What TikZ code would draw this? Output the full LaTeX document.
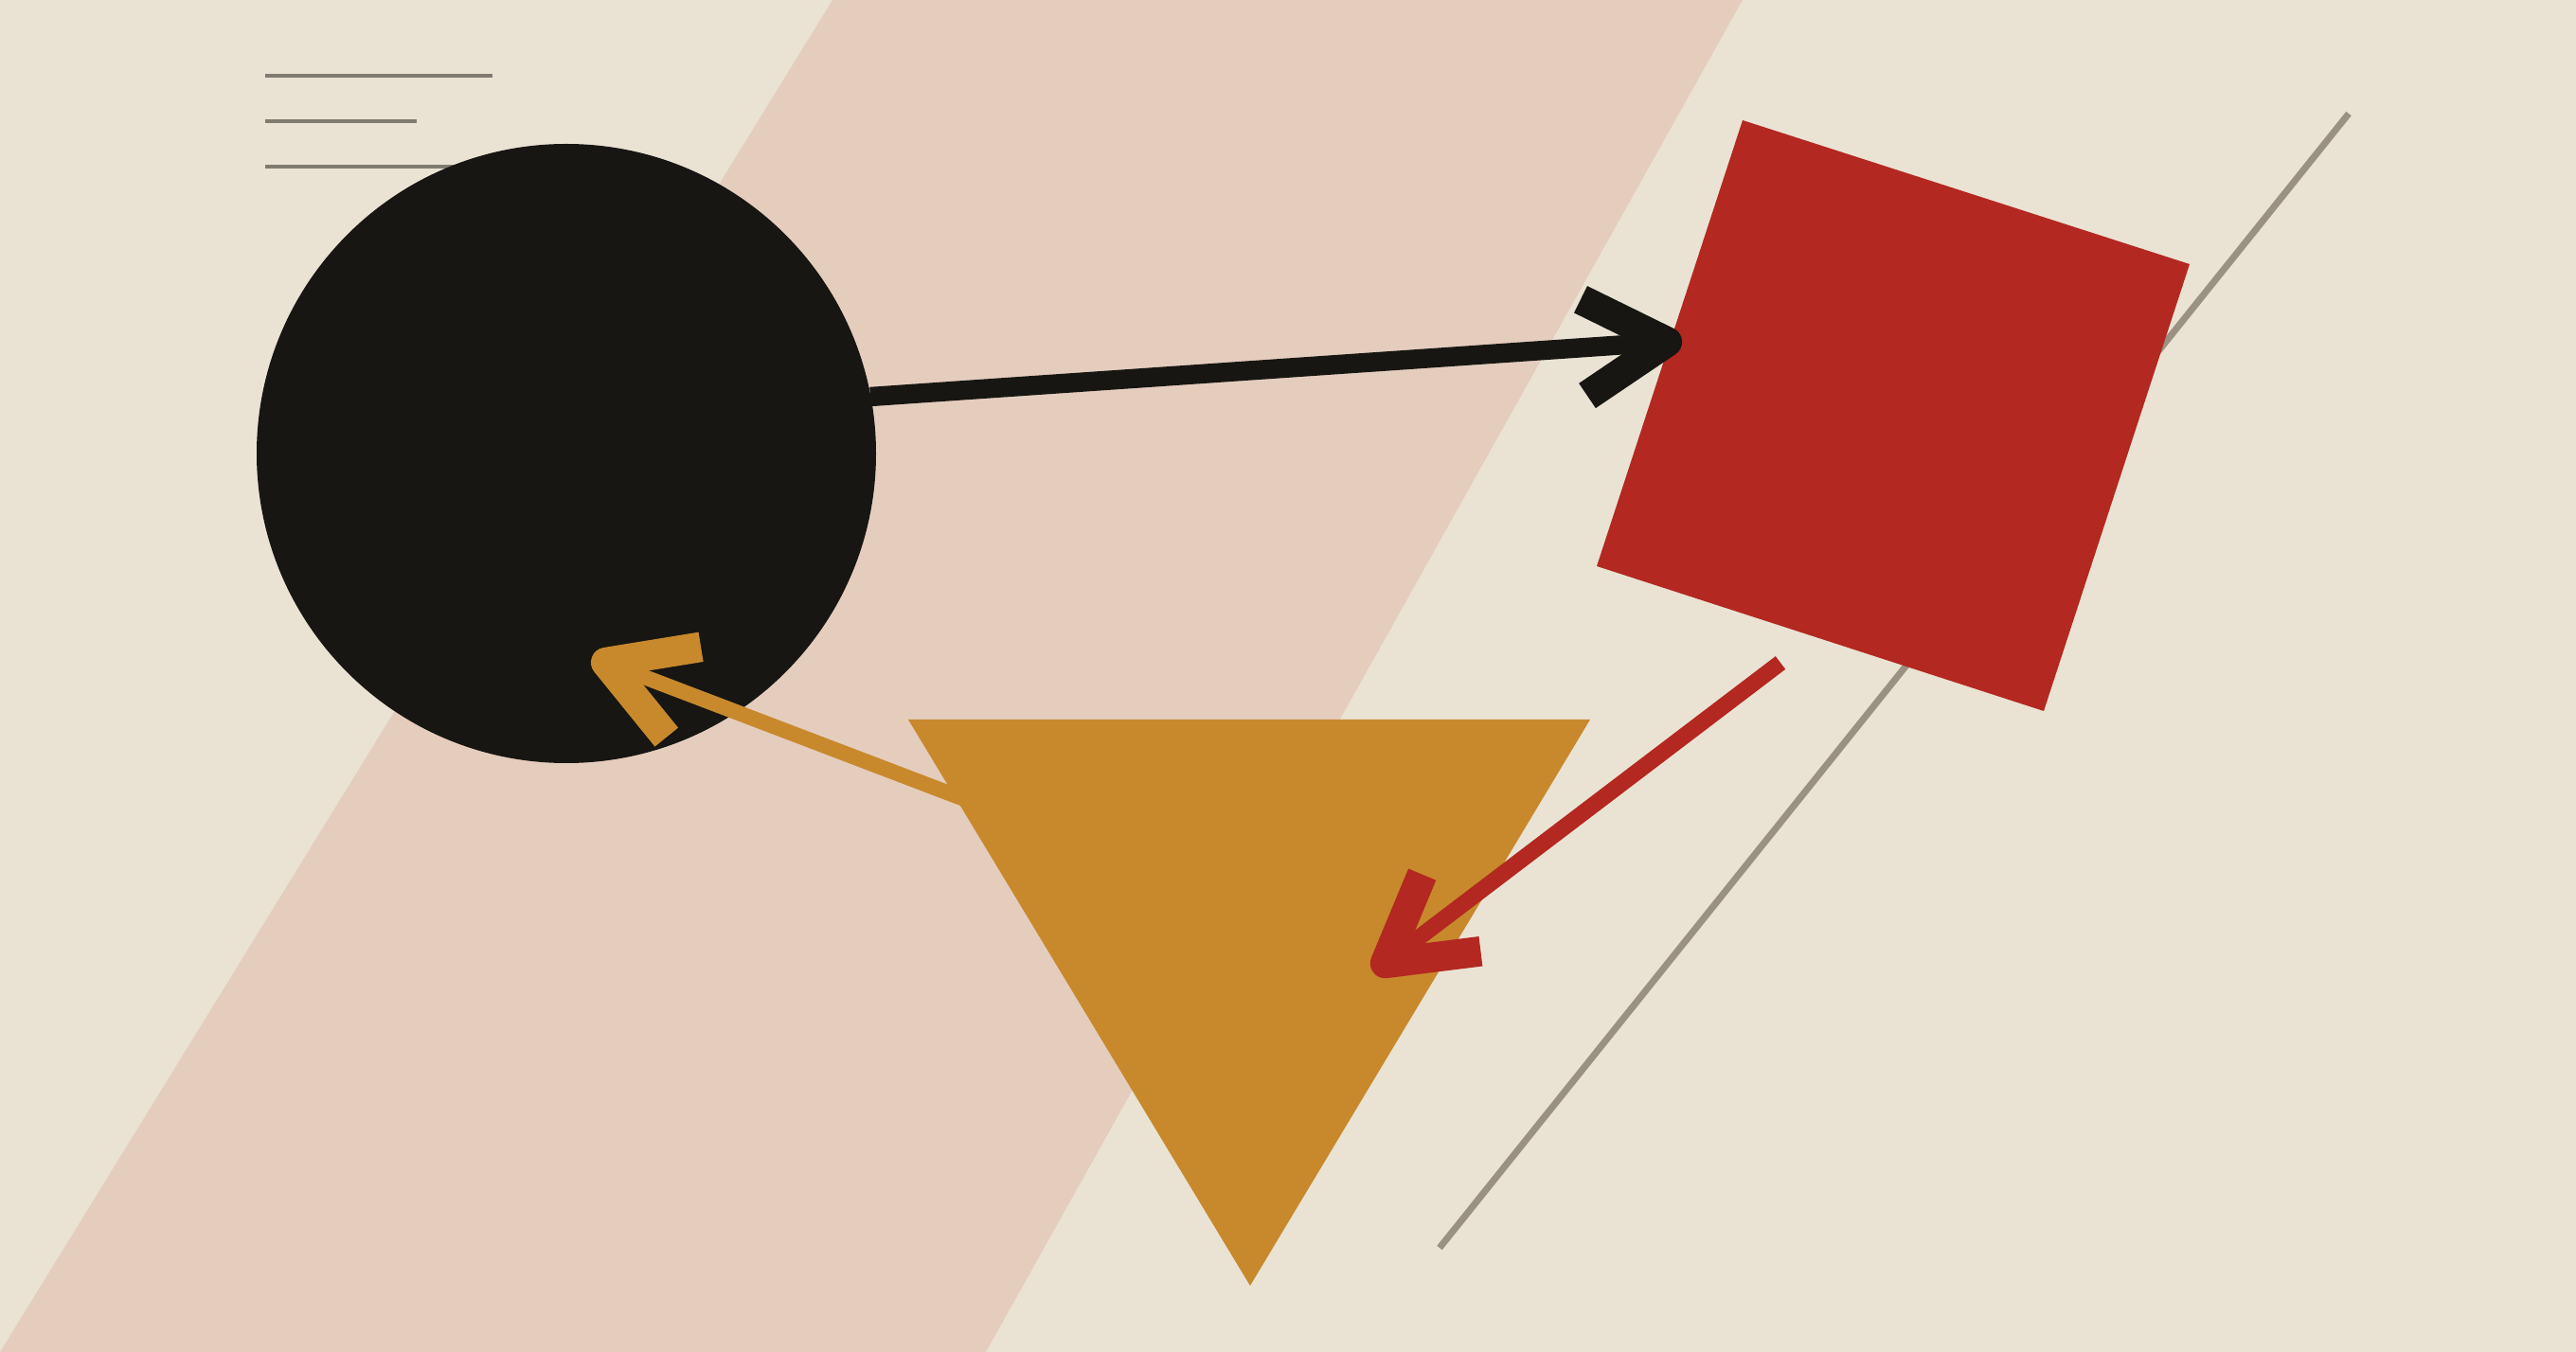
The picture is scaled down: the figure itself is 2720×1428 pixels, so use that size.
\documentclass[tikz,border=0pt]{standalone}
\usetikzlibrary{arrows.meta}
\definecolor{paper}{RGB}{234,227,212}
\definecolor{band}{RGB}{229,205,190}
\definecolor{ink}{RGB}{23,22,18}
\definecolor{vermil}{RGB}{179,40,32}
\definecolor{ochre}{RGB}{200,137,44}
\definecolor{stone}{RGB}{154,145,130}
\definecolor{rule}{RGB}{128,123,112}
\begin{document}
\begin{tikzpicture}[x=0.01cm, y=-0.01cm,
		barb/.style={-{Straight Barb[length=25pt, width=29pt, line width=9pt, line join=round]}},
		textline/.style={draw=rule, line width=1.15pt},
		diag/.style={draw=stone, line width=2pt}]
		% Ground and band:
		\fill[paper] (0, 0) rectangle (2720, 1428);
		\useasboundingbox (0, 0) rectangle (2720, 1428);
		\fill[band] (879, 0) -- (1840, 0) -- (1041, 1428) -- (0, 1428) -- cycle;
		% Short lines, top left:
		\draw[textline] (280, 80) -- (520, 80);
		\draw[textline] (280, 128) -- (440, 128);
		\draw[textline] (280, 176) -- (520, 176);
		% Long thin diagonal:
		\coordinate (d1) at (2480, 120);
		\coordinate (d2) at (1520, 1318);
		\draw[diag] (d1) -- (d2);
		% Shapes:
		\coordinate (disc) at (598, 479);
		\fill[ink] (disc) circle[radius=327];
		\coordinate (sq1) at (1840, 127);
		\coordinate (sq2) at (2312, 279);
		\coordinate (sq3) at (2158, 751);
		\coordinate (sq4) at (1686, 598);
		\fill[vermil] (sq1) -- (sq2) -- (sq3) -- (sq4) -- cycle;
		\coordinate (tri1) at (959, 760);
		\coordinate (tri2) at (1679, 760);
		\coordinate (tri3) at (1320, 1358);
		\fill[ochre] (tri1) -- (tri2) -- (tri3) -- cycle;
		% Arrows:
		\coordinate (trimid) at (1320, 959);
		\coordinate (orangetip) at (625, 694);
		\draw[barb, ochre, line width=4.6pt] (trimid) -- (orangetip);
		\coordinate (discrim) at (919, 419);
		\coordinate (blacktip) at (1776, 360);
		\draw[barb, ink, line width=5.8pt] (discrim) -- (blacktip);
		\coordinate (redtail) at (1880, 700);
		\coordinate (redtip) at (1450, 1027);
		\draw[barb, vermil, line width=4.9pt] (redtail) -- (redtip);
	\end{tikzpicture}
\end{document}
